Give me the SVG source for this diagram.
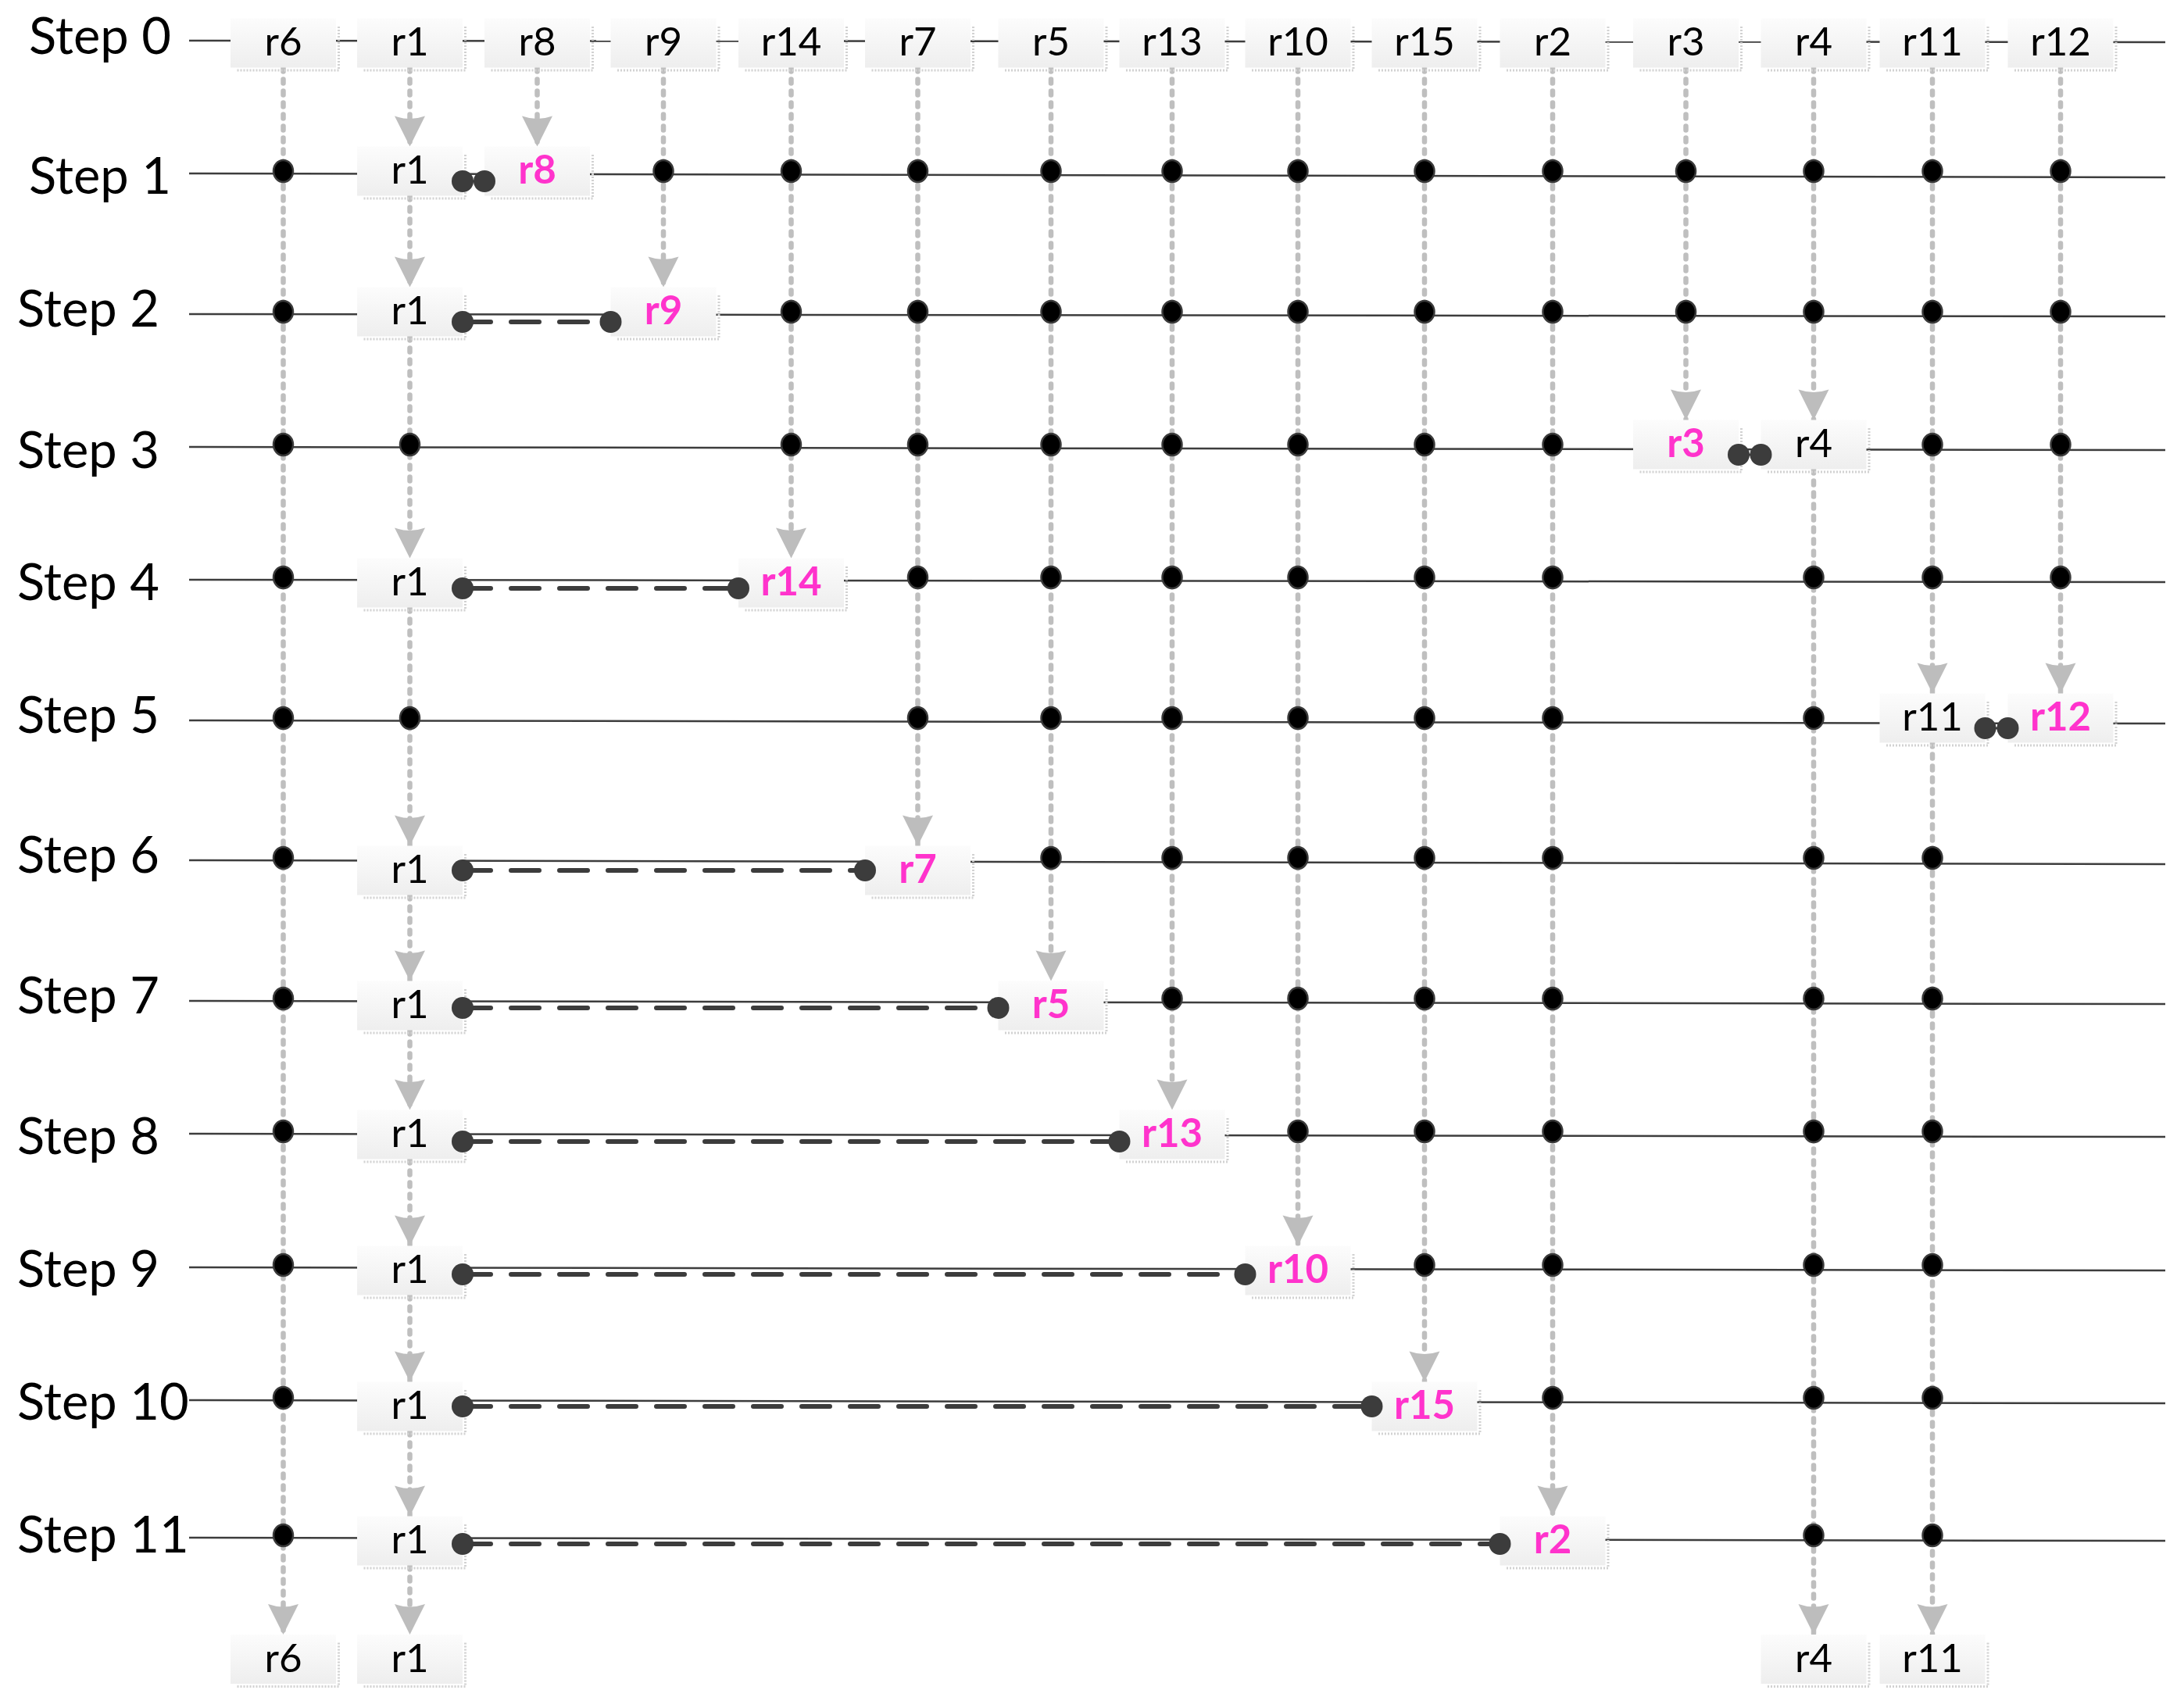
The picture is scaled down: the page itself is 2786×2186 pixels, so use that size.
<svg xmlns="http://www.w3.org/2000/svg" xmlns:xlink="http://www.w3.org/1999/xlink" width="2786" height="2186" viewBox="0 0 2786 2186">
<style>
.row{stroke:#3d3d3d;stroke-width:2.5;fill:none}
.vc{stroke:#bfbfbf;stroke-width:6.5;stroke-dasharray:5 10;stroke-linecap:round;fill:none;marker-end:url(#ah)}
.hc{stroke:#3c3c3c;stroke-width:6;stroke-dasharray:36 26;stroke-linecap:round;fill:none}
.pl{stroke:#3c3c3c;stroke-width:3}
.ep{fill:#3c3c3c}
.lbl{font-family:Lato,"Liberation Sans",sans-serif;font-size:51px;text-anchor:middle;fill:#000}
.mag{fill:#ff33cc;font-weight:bold}
.step{font-family:Lato,"Liberation Sans",sans-serif;font-size:65px;fill:#000}
</style>
<defs>
<linearGradient id="bg" x1="0" y1="0" x2="0" y2="1"><stop offset="0" stop-color="#fcfcfc"/><stop offset="1" stop-color="#eeeeee"/></linearGradient>
<marker id="ah" markerUnits="userSpaceOnUse" viewBox="-42 -21 44 42" refX="0" refY="0" markerWidth="44" markerHeight="42" orient="auto" overflow="visible"><path d="M-39,-19.5 Q-32,0 -39,19.5 L0,0 Z" fill="#bdbdbd" stroke="none"/></marker>
<ellipse id="d" cx="0" cy="0" rx="12.5" ry="14" fill="#000" stroke="#3a3a3a" stroke-width="2.5"/>
<g id="bx"><path d="M71,-21V35H-60" fill="none" stroke="#d2d2d2" stroke-width="3" stroke-dasharray="2 2"/><rect x="-67.5" y="-31.5" width="135" height="63" fill="url(#bg)"/></g>
</defs>

<g id="labels">
<text class="step" x="37" y="69">Step 0</text>
<text class="step" x="37" y="248">Step 1</text>
<text class="step" x="22" y="418">Step 2</text>
<text class="step" x="22" y="599">Step 3</text>
<text class="step" x="22" y="768">Step 4</text>
<text class="step" x="22" y="938">Step 5</text>
<text class="step" x="22" y="1117">Step 6</text>
<text class="step" x="22" y="1297">Step 7</text>
<text class="step" x="22" y="1477">Step 8</text>
<text class="step" x="22" y="1647">Step 9</text>
<text class="step" x="22" y="1817">Step 10</text>
<text class="step" x="22" y="1987">Step 11</text>
</g>

<g id="rows">
<line class="row" x1="242" y1="52" x2="2771" y2="54"/>
<line class="row" x1="242" y1="222" x2="2771" y2="227"/>
<line class="row" x1="242" y1="402" x2="2771" y2="405"/>
<line class="row" x1="242" y1="572" x2="2771" y2="576"/>
<line class="row" x1="242" y1="742" x2="2771" y2="745"/>
<line class="row" x1="242" y1="922" x2="2771" y2="926"/>
<line class="row" x1="242" y1="1101" x2="2771" y2="1106"/>
<line class="row" x1="242" y1="1281" x2="2771" y2="1285"/>
<line class="row" x1="242" y1="1451" x2="2771" y2="1455"/>
<line class="row" x1="242" y1="1622" x2="2771" y2="1626"/>
<line class="row" x1="242" y1="1792" x2="2771" y2="1796"/>
<line class="row" x1="242" y1="1968" x2="2771" y2="1972"/>
</g>

<g id="connectors">
<line class="vc" x1="362.5" y1="86.5" x2="362.5" y2="2092"/>
<line class="vc" x1="524.5" y1="86.5" x2="524.5" y2="187.5"/>
<line class="vc" x1="524.5" y1="250.5" x2="524.5" y2="367.5"/>
<line class="vc" x1="524.5" y1="430.5" x2="524.5" y2="714.5"/>
<line class="vc" x1="524.5" y1="777.5" x2="524.5" y2="1082.5"/>
<line class="vc" x1="524.5" y1="1145.5" x2="524.5" y2="1255.5"/>
<line class="vc" x1="524.5" y1="1318.5" x2="524.5" y2="1420.5"/>
<line class="vc" x1="524.5" y1="1483.5" x2="524.5" y2="1594.5"/>
<line class="vc" x1="524.5" y1="1657.5" x2="524.5" y2="1768.5"/>
<line class="vc" x1="524.5" y1="1831.5" x2="524.5" y2="1940.5"/>
<line class="vc" x1="524.5" y1="2003.5" x2="524.5" y2="2092"/>
<line class="vc" x1="687.5" y1="86.5" x2="687.5" y2="187.5"/>
<line class="vc" x1="849" y1="86.5" x2="849" y2="367.5"/>
<line class="vc" x1="1012.5" y1="86.5" x2="1012.5" y2="714.5"/>
<line class="vc" x1="1174.5" y1="86.5" x2="1174.5" y2="1082.5"/>
<line class="vc" x1="1345" y1="86.5" x2="1345" y2="1255.5"/>
<line class="vc" x1="1500" y1="86.5" x2="1500" y2="1420.5"/>
<line class="vc" x1="1661" y1="86.5" x2="1661" y2="1594.5"/>
<line class="vc" x1="1823" y1="86.5" x2="1823" y2="1768.5"/>
<line class="vc" x1="1987" y1="86.5" x2="1987" y2="1940.5"/>
<line class="vc" x1="2157.5" y1="86.5" x2="2157.5" y2="537.5"/>
<line class="vc" x1="2321" y1="86.5" x2="2321" y2="537.5"/>
<line class="vc" x1="2321" y1="600.5" x2="2321" y2="2092"/>
<line class="vc" x1="2473" y1="86.5" x2="2473" y2="887.5"/>
<line class="vc" x1="2473" y1="950.5" x2="2473" y2="2092"/>
<line class="vc" x1="2637" y1="86.5" x2="2637" y2="887.5"/>
</g>

<g id="nodes-step0">
<g id="s0-r6" transform="translate(362.5,55)"><use href="#bx"/><text class="lbl" y="16">r6</text></g>
<g id="s0-r1" transform="translate(524.5,55)"><use href="#bx"/><text class="lbl" y="16">r1</text></g>
<g id="s0-r8" transform="translate(687.5,55)"><use href="#bx"/><text class="lbl" y="16">r8</text></g>
<g id="s0-r9" transform="translate(849,55)"><use href="#bx"/><text class="lbl" y="16">r9</text></g>
<g id="s0-r14" transform="translate(1012.5,55)"><use href="#bx"/><text class="lbl" y="16">r14</text></g>
<g id="s0-r7" transform="translate(1174.5,55)"><use href="#bx"/><text class="lbl" y="16">r7</text></g>
<g id="s0-r5" transform="translate(1345,55)"><use href="#bx"/><text class="lbl" y="16">r5</text></g>
<g id="s0-r13" transform="translate(1500,55)"><use href="#bx"/><text class="lbl" y="16">r13</text></g>
<g id="s0-r10" transform="translate(1661,55)"><use href="#bx"/><text class="lbl" y="16">r10</text></g>
<g id="s0-r15" transform="translate(1823,55)"><use href="#bx"/><text class="lbl" y="16">r15</text></g>
<g id="s0-r2" transform="translate(1987,55)"><use href="#bx"/><text class="lbl" y="16">r2</text></g>
<g id="s0-r3" transform="translate(2157.5,55)"><use href="#bx"/><text class="lbl" y="16">r3</text></g>
<g id="s0-r4" transform="translate(2321,55)"><use href="#bx"/><text class="lbl" y="16">r4</text></g>
<g id="s0-r11" transform="translate(2473,55)"><use href="#bx"/><text class="lbl" y="16">r11</text></g>
<g id="s0-r12" transform="translate(2637,55)"><use href="#bx"/><text class="lbl" y="16">r12</text></g>
</g>

<g id="nodes-boxes">
<g id="s1-r1" transform="translate(524.5,219)"><use href="#bx"/><text class="lbl" y="16">r1</text></g>
<g id="s1-r8" transform="translate(687.5,219)"><use href="#bx"/><text class="lbl mag" y="16">r8</text></g>
<g id="s2-r1" transform="translate(524.5,399)"><use href="#bx"/><text class="lbl" y="16">r1</text></g>
<g id="s2-r9" transform="translate(849,399)"><use href="#bx"/><text class="lbl mag" y="16">r9</text></g>
<g id="s3-r3" transform="translate(2157.5,569)"><use href="#bx"/><text class="lbl mag" y="16">r3</text></g>
<g id="s3-r4" transform="translate(2321,569)"><use href="#bx"/><text class="lbl" y="16">r4</text></g>
<g id="s4-r1" transform="translate(524.5,746)"><use href="#bx"/><text class="lbl" y="16">r1</text></g>
<g id="s4-r14" transform="translate(1012.5,746)"><use href="#bx"/><text class="lbl mag" y="16">r14</text></g>
<g id="s5-r11" transform="translate(2473,919)"><use href="#bx"/><text class="lbl" y="16">r11</text></g>
<g id="s5-r12" transform="translate(2637,919)"><use href="#bx"/><text class="lbl mag" y="16">r12</text></g>
<g id="s6-r1" transform="translate(524.5,1114)"><use href="#bx"/><text class="lbl" y="16">r1</text></g>
<g id="s6-r7" transform="translate(1174.5,1114)"><use href="#bx"/><text class="lbl mag" y="16">r7</text></g>
<g id="s7-r1" transform="translate(524.5,1287)"><use href="#bx"/><text class="lbl" y="16">r1</text></g>
<g id="s7-r5" transform="translate(1345,1287)"><use href="#bx"/><text class="lbl mag" y="16">r5</text></g>
<g id="s8-r1" transform="translate(524.5,1452)"><use href="#bx"/><text class="lbl" y="16">r1</text></g>
<g id="s8-r13" transform="translate(1500,1452)"><use href="#bx"/><text class="lbl mag" y="16">r13</text></g>
<g id="s9-r1" transform="translate(524.5,1626)"><use href="#bx"/><text class="lbl" y="16">r1</text></g>
<g id="s9-r10" transform="translate(1661,1626)"><use href="#bx"/><text class="lbl mag" y="16">r10</text></g>
<g id="s10-r1" transform="translate(524.5,1800)"><use href="#bx"/><text class="lbl" y="16">r1</text></g>
<g id="s10-r15" transform="translate(1823,1800)"><use href="#bx"/><text class="lbl mag" y="16">r15</text></g>
<g id="s11-r1" transform="translate(524.5,1972)"><use href="#bx"/><text class="lbl" y="16">r1</text></g>
<g id="s11-r2" transform="translate(1987,1972)"><use href="#bx"/><text class="lbl mag" y="16">r2</text></g>
<g id="end-r6" transform="translate(362.5,2123.5)"><use href="#bx"/><text class="lbl" y="16">r6</text></g>
<g id="end-r1" transform="translate(524.5,2123.5)"><use href="#bx"/><text class="lbl" y="16">r1</text></g>
<g id="end-r4" transform="translate(2321,2123.5)"><use href="#bx"/><text class="lbl" y="16">r4</text></g>
<g id="end-r11" transform="translate(2473,2123.5)"><use href="#bx"/><text class="lbl" y="16">r11</text></g>
</g>

<g id="links">
<line class="pl" x1="592" y1="232" x2="620" y2="232"/><circle class="ep" cx="592" cy="232" r="14"/><circle class="ep" cx="620" cy="232" r="14"/>
<line class="pl" x1="2225" y1="582" x2="2253.5" y2="582"/><circle class="ep" cx="2225" cy="582" r="14"/><circle class="ep" cx="2253.5" cy="582" r="14"/>
<line class="pl" x1="2540.5" y1="932" x2="2569.5" y2="932"/><circle class="ep" cx="2540.5" cy="932" r="14"/><circle class="ep" cx="2569.5" cy="932" r="14"/>
<line class="hc" x1="592" y1="412" x2="781.5" y2="412"/><circle class="ep" cx="592" cy="412" r="14"/><circle class="ep" cx="781.5" cy="412" r="14"/>
<line class="hc" x1="592" y1="753" x2="945" y2="753"/><circle class="ep" cx="592" cy="753" r="14"/><circle class="ep" cx="945" cy="753" r="14"/>
<line class="hc" x1="592" y1="1114" x2="1107" y2="1114"/><circle class="ep" cx="592" cy="1114" r="14"/><circle class="ep" cx="1107" cy="1114" r="14"/>
<line class="hc" x1="592" y1="1290" x2="1277.5" y2="1290"/><circle class="ep" cx="592" cy="1290" r="14"/><circle class="ep" cx="1277.5" cy="1290" r="14"/>
<line class="hc" x1="592" y1="1461" x2="1432.5" y2="1461"/><circle class="ep" cx="592" cy="1461" r="14"/><circle class="ep" cx="1432.5" cy="1461" r="14"/>
<line class="hc" x1="592" y1="1631" x2="1593.5" y2="1631"/><circle class="ep" cx="592" cy="1631" r="14"/><circle class="ep" cx="1593.5" cy="1631" r="14"/>
<line class="hc" x1="592" y1="1800" x2="1755.5" y2="1800"/><circle class="ep" cx="592" cy="1800" r="14"/><circle class="ep" cx="1755.5" cy="1800" r="14"/>
<line class="hc" x1="592" y1="1976" x2="1919.5" y2="1976"/><circle class="ep" cx="592" cy="1976" r="14"/><circle class="ep" cx="1919.5" cy="1976" r="14"/>
</g>

<g id="dots">
<g transform="translate(0,219)"><use href="#d" x="362.5"/><use href="#d" x="849"/><use href="#d" x="1012.5"/><use href="#d" x="1174.5"/><use href="#d" x="1345"/><use href="#d" x="1500"/><use href="#d" x="1661"/><use href="#d" x="1823"/><use href="#d" x="1987"/><use href="#d" x="2157.5"/><use href="#d" x="2321"/><use href="#d" x="2473"/><use href="#d" x="2637"/></g>
<g transform="translate(0,399)"><use href="#d" x="362.5"/><use href="#d" x="1012.5"/><use href="#d" x="1174.5"/><use href="#d" x="1345"/><use href="#d" x="1500"/><use href="#d" x="1661"/><use href="#d" x="1823"/><use href="#d" x="1987"/><use href="#d" x="2157.5"/><use href="#d" x="2321"/><use href="#d" x="2473"/><use href="#d" x="2637"/></g>
<g transform="translate(0,569)"><use href="#d" x="362.5"/><use href="#d" x="524.5"/><use href="#d" x="1012.5"/><use href="#d" x="1174.5"/><use href="#d" x="1345"/><use href="#d" x="1500"/><use href="#d" x="1661"/><use href="#d" x="1823"/><use href="#d" x="1987"/><use href="#d" x="2473"/><use href="#d" x="2637"/></g>
<g transform="translate(0,739)"><use href="#d" x="362.5"/><use href="#d" x="1174.5"/><use href="#d" x="1345"/><use href="#d" x="1500"/><use href="#d" x="1661"/><use href="#d" x="1823"/><use href="#d" x="1987"/><use href="#d" x="2321"/><use href="#d" x="2473"/><use href="#d" x="2637"/></g>
<g transform="translate(0,919)"><use href="#d" x="362.5"/><use href="#d" x="524.5"/><use href="#d" x="1174.5"/><use href="#d" x="1345"/><use href="#d" x="1500"/><use href="#d" x="1661"/><use href="#d" x="1823"/><use href="#d" x="1987"/><use href="#d" x="2321"/></g>
<g transform="translate(0,1098)"><use href="#d" x="362.5"/><use href="#d" x="1345"/><use href="#d" x="1500"/><use href="#d" x="1661"/><use href="#d" x="1823"/><use href="#d" x="1987"/><use href="#d" x="2321"/><use href="#d" x="2473"/></g>
<g transform="translate(0,1278)"><use href="#d" x="362.5"/><use href="#d" x="1500"/><use href="#d" x="1661"/><use href="#d" x="1823"/><use href="#d" x="1987"/><use href="#d" x="2321"/><use href="#d" x="2473"/></g>
<g transform="translate(0,1448)"><use href="#d" x="362.5"/><use href="#d" x="1661"/><use href="#d" x="1823"/><use href="#d" x="1987"/><use href="#d" x="2321"/><use href="#d" x="2473"/></g>
<g transform="translate(0,1619)"><use href="#d" x="362.5"/><use href="#d" x="1823"/><use href="#d" x="1987"/><use href="#d" x="2321"/><use href="#d" x="2473"/></g>
<g transform="translate(0,1789)"><use href="#d" x="362.5"/><use href="#d" x="1987"/><use href="#d" x="2321"/><use href="#d" x="2473"/></g>
<g transform="translate(0,1965)"><use href="#d" x="362.5"/><use href="#d" x="2321"/><use href="#d" x="2473"/></g>
</g>
</svg>
